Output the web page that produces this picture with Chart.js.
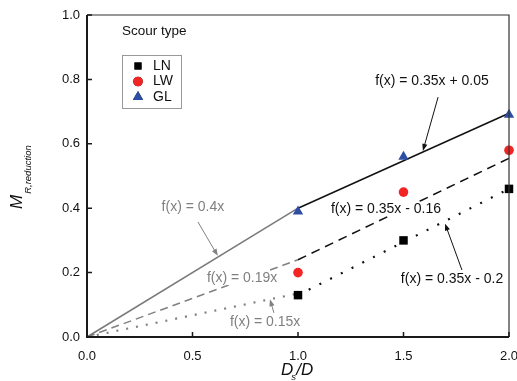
<!DOCTYPE html>
<html lang="en">
<head>
  <meta charset="UTF-8" />
  <title>Scour type reduction</title>
  <script src="https://cdn.jsdelivr.net/npm/chart.js"></script>
  <style>
    html, body { margin: 0; padding: 0; background: #fff; }
    canvas { display: block; }
  </style>
</head>
<body>
  <canvas id="chart" width="517" height="381"></canvas>

  <script>
    // measured points (Ds/D vs M_R,reduction)
    const dsD = [1.0, 1.5, 2.0];
    const lnVals = [0.13, 0.30, 0.46];
    const lwVals = [0.20, 0.45, 0.58];
    const glVals = [0.39, 0.56, 0.69];

    // fitted lines
    const fitLowX = [0, 1];
    const fitHighX = [1, 2];
    const glLow = [0, 0.40];
    const lwLow = [0, 0.24];
    const lnLow = [0, 0.135];
    const glHigh = [0.40, 0.695];
    const lwHigh = [0.24, 0.555];
    const lnHigh = [0.13, 0.46];

    const xTicks = [0, 0.5, 1.0, 1.5, 2.0];
    const yTicks = [0, 0.2, 0.4, 0.6, 0.8, 1.0];

    const FONT = "'Liberation Sans', Arial, sans-serif";
    const GRAY = '#808080';
    const RED = '#f22424';
    const BLUE = '#2d4ea3';

    // text labels with arrows (data coords)
    const notes = [
      { text: 'f(x) = 0.35x + 0.05', x: 1.635, y: 0.795, color: '#111', arrow: [1.664, 0.745, 1.592, 0.578] },
      { text: 'f(x) = 0.35x - 0.16', x: 1.417, y: 0.398, color: '#111' },
      { text: 'f(x) = 0.35x - 0.2', x: 1.730, y: 0.180, color: '#111', arrow: [1.777, 0.208, 1.697, 0.352] },
      { text: 'f(x) = 0.4x', x: 0.502, y: 0.402, color: GRAY, arrow: [0.526, 0.357, 0.62, 0.252] },
      { text: 'f(x) = 0.19x', x: 0.735, y: 0.183, color: GRAY },
      { text: 'f(x) = 0.15x', x: 0.844, y: 0.047, color: GRAY, arrow: [0.886, 0.075, 0.867, 0.117] }
    ];

    const pts = (xs, ys) => xs.map((x, i) => ({ x, y: ys[i] }));

    function lineSet(xs, ys, color, dash, width) {
      return {
        data: pts(xs, ys),
        showLine: true,
        borderColor: color,
        borderWidth: width || 1.5,
        borderDash: dash,
        pointRadius: 0,
        fill: false
      };
    }

    function drawArrow(ctx, x1, y1, x2, y2, color) {
      const a = Math.atan2(y2 - y1, x2 - x1);
      const len = 7, half = 2.6;
      ctx.save();
      ctx.strokeStyle = color;
      ctx.fillStyle = color;
      ctx.lineWidth = 1;
      ctx.beginPath();
      ctx.moveTo(x1, y1);
      ctx.lineTo(x2 - Math.cos(a) * len * 0.8, y2 - Math.sin(a) * len * 0.8);
      ctx.stroke();
      ctx.beginPath();
      ctx.moveTo(x2, y2);
      ctx.lineTo(x2 - Math.cos(a) * len + Math.sin(a) * half, y2 - Math.sin(a) * len - Math.cos(a) * half);
      ctx.lineTo(x2 - Math.cos(a) * len - Math.sin(a) * half, y2 - Math.sin(a) * len + Math.cos(a) * half);
      ctx.closePath();
      ctx.fill();
      ctx.restore();
    }

    const decor = {
      id: 'decor',
      afterDraw(chart) {
        const { ctx, chartArea: ca, scales } = chart;
        const sx = scales.x, sy = scales.y;
        ctx.save();

        // notes (opaque, they hide the lines behind them)
        ctx.font = '14px ' + FONT;
        ctx.textAlign = 'center';
        ctx.textBaseline = 'middle';
        notes.forEach(n => {
          const px = sx.getPixelForValue(n.x), py = sy.getPixelForValue(n.y);
          const w = ctx.measureText(n.text).width;
          ctx.fillStyle = '#fff';
          ctx.fillRect(px - w / 2 - 1, py - 7, w + 2, 14);
          ctx.fillStyle = n.color;
          ctx.fillText(n.text, px, py);
          if (n.arrow) {
            const [ax1, ay1, ax2, ay2] = n.arrow;
            drawArrow(ctx, sx.getPixelForValue(ax1), sy.getPixelForValue(ay1),
              sx.getPixelForValue(ax2), sy.getPixelForValue(ay2), n.color);
          }
        });

        // frame
        ctx.strokeStyle = '#333';
        ctx.lineWidth = 1.2;
        ctx.beginPath();
        ctx.moveTo(ca.left, ca.top);
        ctx.lineTo(ca.right, ca.top);
        ctx.lineTo(ca.right, ca.bottom);
        ctx.stroke();
        ctx.strokeStyle = '#1a1a1a';
        ctx.lineWidth = 2;
        ctx.beginPath();
        ctx.moveTo(ca.left, ca.top);
        ctx.lineTo(ca.left, ca.bottom);
        ctx.lineTo(ca.right, ca.bottom);
        ctx.stroke();

        // inward ticks
        ctx.lineWidth = 1.5;
        ctx.beginPath();
        xTicks.forEach(v => {
          const px = sx.getPixelForValue(v);
          ctx.moveTo(px, ca.bottom);
          ctx.lineTo(px, ca.bottom - 5);
        });
        yTicks.forEach(v => {
          const py = sy.getPixelForValue(v);
          ctx.moveTo(ca.left, py);
          ctx.lineTo(ca.left + 5, py);
        });
        ctx.stroke();

        // legend
        const lx = ca.left + 35, ly = ca.top + 40;
        ctx.fillStyle = '#111';
        ctx.textAlign = 'left';
        ctx.font = '13.5px ' + FONT;
        ctx.fillText('Scour type', lx, ca.top + 16);
        ctx.strokeStyle = '#999';
        ctx.lineWidth = 1;
        ctx.strokeRect(lx + 0.5, ly + 0.5, 59, 53);
        const items = [
          { label: 'LN', style: 'rect', color: '#000', r: 5 },
          { label: 'LW', style: 'circle', color: RED, r: 4.8 },
          { label: 'GL', style: 'triangle', color: BLUE, r: 6 }
        ];
        ctx.font = '14px ' + FONT;
        items.forEach((it, i) => {
          const cy = ly + 11 + i * 15.5;
          Chart.helpers.drawPoint(ctx, { pointStyle: it.style, radius: it.r, borderWidth: 0 }, lx + 16, cy);
          ctx.fillStyle = it.color;
          ctx.fill();
          ctx.fillStyle = '#111';
          ctx.fillText(it.label, lx + 31, cy);
        });

        // x title: Ds/D
        const tx = (ca.left + ca.right) / 2 - 17, tb = 375;
        ctx.fillStyle = '#111';
        ctx.font = 'italic 17px ' + FONT;
        ctx.textBaseline = 'alphabetic';
        ctx.fillText('D', tx, tb);
        const dw = ctx.measureText('D').width;
        ctx.font = 'italic 9.5px ' + FONT;
        ctx.fillText('s', tx + dw - 2, tb + 5);
        ctx.font = 'italic 17px ' + FONT;
        ctx.fillText('/D', tx + dw + 3, tb);

        // y title: M_R,reduction
        ctx.translate(22, 209);
        ctx.rotate(-Math.PI / 2);
        ctx.font = 'italic 17px ' + FONT;
        ctx.fillText('M', 0, 0);
        const mw = ctx.measureText('M').width;
        ctx.font = 'italic 9.5px ' + FONT;
        ctx.fillText('R,reduction', mw + 1, 9);

        ctx.restore();
      }
    };

    new Chart(document.getElementById('chart'), {
      type: 'scatter',
      data: {
        datasets: [
          { label: 'GL', data: pts(dsD, glVals), pointStyle: 'triangle', radius: 6, backgroundColor: BLUE, borderWidth: 0 },
          { label: 'LW', data: pts(dsD, lwVals), pointStyle: 'circle', radius: 4.8, backgroundColor: RED, borderWidth: 0 },
          { label: 'LN', data: pts(dsD, lnVals), pointStyle: 'rect', radius: 6, backgroundColor: '#000', borderWidth: 0 },
          lineSet(fitLowX, glLow, '#7a7a7a', []),
          lineSet(fitLowX, lwLow, GRAY, [8, 5]),
          lineSet(fitLowX, lnLow, GRAY, [2, 8], 2.2),
          lineSet(fitHighX, glHigh, '#111', []),
          lineSet(fitHighX, lwHigh, '#111', [9, 6]),
          lineSet(fitHighX, lnHigh, '#111', [2, 10], 2.2)
        ]
      },
      options: {
        responsive: false,
        animation: false,
        devicePixelRatio: 1,
        clip: false,
        layout: { padding: { top: 15, right: 8, left: 0, bottom: 0 } },
        plugins: { legend: { display: false }, tooltip: { enabled: false } },
        scales: {
          x: {
            type: 'linear', min: 0, max: 2,
            grid: { display: false, drawTicks: false },
            border: { display: false },
            ticks: {
              stepSize: 0.5, padding: 12, color: '#111',
              font: { family: FONT, size: 13 },
              callback: v => v.toFixed(1)
            },
            afterFit: s => { s.height = 44; s.paddingLeft = 0; s.paddingRight = 0; }
          },
          y: {
            min: 0, max: 1,
            grid: { display: false, drawTicks: false },
            border: { display: false },
            ticks: {
              stepSize: 0.2, padding: 7, color: '#111',
              font: { family: FONT, size: 13 },
              callback: v => v.toFixed(1)
            },
            afterFit: s => { s.width = 87; s.paddingTop = 0; s.paddingBottom = 0; }
          }
        }
      },
      plugins: [decor]
    });
  </script>
</body>
</html>
